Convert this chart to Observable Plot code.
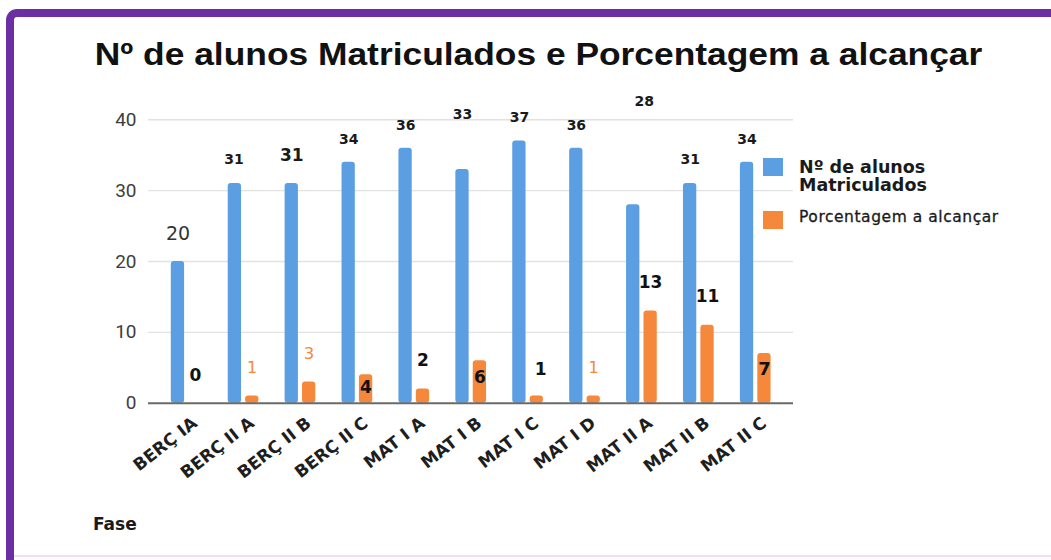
<!DOCTYPE html>
<html>
<head>
<meta charset="utf-8">
<script src="https://cdn.jsdelivr.net/npm/d3@7"></script>
<script src="https://cdn.jsdelivr.net/npm/@observablehq/plot@0.6"></script>
<style>
  html, body { margin: 0; padding: 0; background: #fff; }
  #wrap { position: relative; width: 1051px; height: 560px; overflow: hidden; background: #fff; }
  #frame { position: absolute; left: 6px; top: 9px; width: 1200px; height: 700px; box-sizing: border-box;
           border-top: 8px solid #6b2fa3; border-left: 8px solid #6b2fa3; border-top-left-radius: 11px; }
  #bottomline { position: absolute; left: 14px; right: 0; top: 555px; height: 2px; background: #f3dcf6; }
  #chart { position: absolute; left: 0; top: 0; }
  #title { position: absolute; left: 0; width: 1078px; top: 38px; text-align: center; white-space: nowrap;
           font: bold 32px/32px "Liberation Sans", Arial, sans-serif; color: #111; }
  #title span { display: inline-block; transform: scaleX(1.105); }
  .sw { position: absolute; width: 20px; height: 18px; }
  .lg { position: absolute; left: 799px; color: #1a1a1a; white-space: nowrap; }
  #lg1 { top: 158px; font: bold 17.5px/18.4px "DejaVu Sans", sans-serif; }
  #lg2 { top: 209.6px; font: 15.5px/15.5px "DejaVu Sans", sans-serif; letter-spacing: 0.55px; -webkit-text-stroke: 0.3px #1a1a1a; }
  #fase { position: absolute; left: 93px; top: 516.3px; font: bold 17px/17px "DejaVu Sans", sans-serif; color: #1a1a1a; }
</style>
</head>
<body>
<div id="wrap">
  <div id="frame"></div>
  <div id="bottomline"></div>
  <div id="chart"></div>
  <div id="title"><span>Nº de alunos Matriculados e Porcentagem a alcançar</span></div>
  <div class="sw" style="left:763px; top:158px; background:#5b9fe2;"></div>
  <div class="lg" id="lg1">Nº de alunos<br>Matriculados</div>
  <div class="sw" style="left:763px; top:211px; background:#f5883a;"></div>
  <div class="lg" id="lg2">Porcentagem a alcançar</div>
  <div id="fase">Fase</div>
</div>
<script>
// ---- data ----
const categories = ["BERÇ IA", "BERÇ II A", "BERÇ II B", "BERÇ II C", "MAT I A", "MAT I B", "MAT I C", "MAT I D", "MAT II A", "MAT II B", "MAT II C"];
const alunos = [20, 31, 31, 34, 36, 33, 37, 36, 28, 31, 34];
const porcentagem = [0, 1, 3, 4, 2, 6, 1, 1, 13, 11, 7];
const yTicks = [0, 10, 20, 30, 40];

// ---- layout / styling (label placement as in the source image) ----
const BLUE = "#5b9fe2", ORANGE = "#f5883a";
const blueLabelLayout = [
  {dx: 0, dy: -28, size: 19, weight: "normal", color: "#333"},
  {dx: -1, dy: -24, size: 14, weight: "bold", color: "#1a1a1a"},
  {dx: 0, dy: -28, size: 17, weight: "bold", color: "#1a1a1a"},
  {dx: 0, dy: -23, size: 14, weight: "bold", color: "#1a1a1a"},
  {dx: 0, dy: -23, size: 14, weight: "bold", color: "#1a1a1a"},
  {dx: 0, dy: -55, size: 14, weight: "bold", color: "#1a1a1a"},
  {dx: 0, dy: -24, size: 14, weight: "bold", color: "#1a1a1a"},
  {dx: 0, dy: -23, size: 14, weight: "bold", color: "#1a1a1a"},
  {dx: 11, dy: -103, size: 14, weight: "bold", color: "#1a1a1a"},
  {dx: 0, dy: -24, size: 14, weight: "bold", color: "#1a1a1a"},
  {dx: 0, dy: -23, size: 14, weight: "bold", color: "#1a1a1a"}
];
const orangeLabelLayout = [
  {dx: 0, dy: -28, size: 17, weight: "bold", color: "#111"},
  {dx: 0, dy: -28, size: 16, weight: "normal", color: ORANGE},
  {dx: 0, dy: -28, size: 16.5, weight: "normal", color: ORANGE},
  {dx: 0, dy: 13, size: 17, weight: "bold", color: "#111"},
  {dx: 0, dy: -28.5, size: 17, weight: "bold", color: "#111"},
  {dx: 0, dy: 16.5, size: 17, weight: "bold", color: "#111"},
  {dx: 4, dy: -27, size: 17, weight: "bold", color: "#111"},
  {dx: 0, dy: -28, size: 16, weight: "normal", color: ORANGE},
  {dx: 0, dy: -28.6, size: 17, weight: "bold", color: "#111"},
  {dx: 0, dy: -28.8, size: 17, weight: "bold", color: "#111"},
  {dx: 0, dy: 16, size: 18, weight: "bold", color: "#111"}
];

const rows = categories.map((c, i) => ({c, alunos: alunos[i], pct: porcentagem[i]}));

const BAND = (793 - 148 - 19) / categories.length;
const blueOff = 20 - BAND / 2;
const orangeOff = 37.3 - BAND / 2;

const labelMarks = rows.flatMap((r, i) => {
  const b = blueLabelLayout[i], o = orangeLabelLayout[i];
  return [
    Plot.text([r], {x: "c", y: "alunos", text: d => String(d.alunos), dx: blueOff + b.dx, dy: b.dy,
      fontSize: b.size, fontWeight: b.weight, fill: b.color, fontFamily: "DejaVu Sans, sans-serif"}),
    Plot.text([r], {x: "c", y: "pct", text: d => String(d.pct), dx: orangeOff + o.dx, dy: o.dy,
      fontSize: o.size, fontWeight: o.weight, fill: o.color, fontFamily: "DejaVu Sans, sans-serif"})
  ];
});

const chart = Plot.plot({
  width: 1051,
  height: 560,
  marginLeft: 148,
  marginRight: 258,
  marginTop: 119.3,
  marginBottom: 157.3,
  style: {background: "transparent", overflow: "visible"},
  x: {type: "band", domain: categories, padding: 0, round: false, insetLeft: 9.5, insetRight: 9.5, axis: null},
  y: {domain: [0, 40], axis: null},
  marks: [
    Plot.ruleY(yTicks.filter(t => t > 0), {stroke: "#e2e2e2", strokeWidth: 1.4}),
    Plot.barY(rows, {x: "c", y: "alunos", fill: BLUE, insetLeft: 13.3, insetRight: BAND - 26.6, rx: 3}),
    Plot.barY(rows, {x: "c", y: "pct", fill: ORANGE, insetLeft: 30.7, insetRight: BAND - 44, rx: 3}),
    Plot.ruleY([0], {stroke: "#6a6a6a", strokeWidth: 2}),
    Plot.text(yTicks, {y: d => d, text: d => String(d), frameAnchor: "left", textAnchor: "end", dx: -12,
      fontSize: 19, fill: "#3e3e3e", fontFamily: "Roboto, sans-serif"}),
    Plot.text(categories, {x: d => d, text: d => d, frameAnchor: "bottom", textAnchor: "end", lineAnchor: "bottom",
      rotate: -38, dx: 12, dy: 22, fontSize: 17, fontWeight: "bold", fill: "#1e1e1e", fontFamily: "DejaVu Sans, sans-serif"}),
    ...labelMarks
  ]
});
document.getElementById("chart").appendChild(chart);
</script>
</body>
</html>
